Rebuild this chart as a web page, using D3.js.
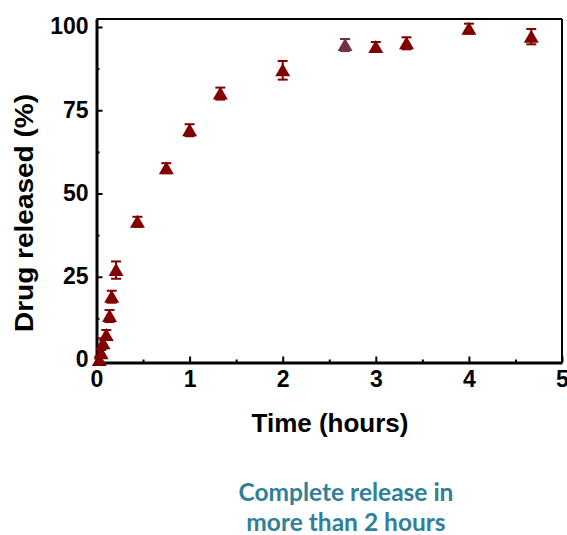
<!DOCTYPE html>
<html>
<head>
<meta charset="utf-8">
<title>Drug release</title>
<script src="https://d3js.org/d3.v7.min.js"></script>
<style>
  body { margin: 0; background: #fff; }
  svg { display: block; }
  .tick text { font-family: "Liberation Sans", Arial, sans-serif; font-weight: bold; font-size: 23px; fill: #000; }
  .lbl { font-family: "Liberation Sans", Arial, sans-serif; font-weight: bold; font-size: 26px; fill: #000; }
  .cap { font-family: Lato, "Open Sans", sans-serif; font-weight: bold; font-size: 24.5px; fill: #2f8099; }
</style>
</head>
<body>
<svg id="chart" width="567" height="535"></svg>
<script>
// time points (hours) and % released
var timeHours = [0.03, 0.05, 0.07, 0.105, 0.14, 0.163, 0.21, 0.44, 0.75, 1, 1.33, 2, 2.67, 3, 3.33, 4, 4.67];
var released  = [0, 2, 5, 7.5, 13.2, 19, 27, 41.5, 57.6, 69, 80, 87, 94.6, 94, 95.1, 99.5, 97.1];
var errBars   = [1, 1, 1.5, 1.5, 1.8, 1.8, 2.6, 1.5, 1.5, 1.8, 1.8, 2.8, 1.8, 1.5, 1.8, 1.5, 2.3];
var pointColor = ["#800000","#800000","#800000","#800000","#800000","#800000","#800000","#800000","#800000",
                  "#800000","#800000","#800000","#6b3344","#800000","#800000","#800000","#800000"];

var xTicks = [0, 1, 2, 3, 4, 5];
var xMinor = [0.5, 1.5, 2.5, 3.5, 4.5];
var yTicks = [0, 25, 50, 75, 100];
var yMinor = [12.5, 37.5, 62.5, 87.5];

var data = timeHours.map(function(t, i) {
  return { t: t, v: released[i], e: errBars[i], c: pointColor[i] };
});

var svg = d3.select("#chart");

var x = d3.scaleLinear([0, 5], [96.5, 562]);
var y = d3.scaleLinear([-0.75, 102.4], [362.5, 19]);

// frame: top and right
svg.append("line")
  .attr("x1", x(0)).attr("x2", x(5)).attr("y1", y(102.4)).attr("y2", y(102.4))
  .attr("stroke", "#000").attr("stroke-width", 2);
svg.append("line")
  .attr("x1", x(5)).attr("x2", x(5)).attr("y1", y(102.4)).attr("y2", y(-0.75))
  .attr("stroke", "#000").attr("stroke-width", 2);

// minor ticks
svg.append("g")
  .attr("transform", "translate(0," + y(-0.75) + ")")
  .call(d3.axisBottom(x).tickValues(xMinor).tickSize(-3).tickSizeOuter(0).tickFormat(""))
  .call(g => g.select(".domain").remove())
  .selectAll("line").attr("stroke-width", 2);
svg.append("g")
  .attr("transform", "translate(" + x(0) + ",0)")
  .call(d3.axisLeft(y).tickValues(yMinor).tickSize(-3).tickSizeOuter(0).tickFormat(""))
  .call(g => g.select(".domain").remove())
  .selectAll("line").attr("stroke-width", 2);

// major axes
var xAxis = svg.append("g")
  .attr("transform", "translate(0," + y(-0.75) + ")")
  .call(d3.axisBottom(x).tickValues(xTicks).tickSize(-6).tickSizeOuter(0).tickPadding(8).tickFormat(d3.format("d")));
xAxis.select(".domain").attr("stroke-width", 3);
xAxis.selectAll(".tick line").attr("stroke-width", 2);

var yAxis = svg.append("g")
  .attr("transform", "translate(" + x(0) + ",0)")
  .call(d3.axisLeft(y).tickValues(yTicks).tickSize(-6).tickSizeOuter(0).tickPadding(9).tickFormat(d3.format("d")));
yAxis.select(".domain").attr("stroke-width", 3);
yAxis.selectAll(".tick line").attr("stroke-width", 2);
yAxis.selectAll(".tick text").attr("dy", "0.3em").attr("x", -8);

// axis titles
svg.append("text").attr("class", "lbl")
  .attr("x", 330).attr("y", 432).attr("text-anchor", "middle")
  .text("Time (hours)");
svg.append("text").attr("class", "lbl")
  .attr("transform", "translate(33,213) rotate(-90)").attr("text-anchor", "middle")
  .attr("textLength", 238).attr("lengthAdjust", "spacingAndGlyphs")
  .text("Drug released (%)");

// error bars
var pts = svg.append("g").selectAll("g").data(data).join("g")
  .attr("transform", d => "translate(" + x(d.t) + "," + y(d.v) + ")");

pts.append("line")
  .attr("x1", 0).attr("x2", 0)
  .attr("y1", d => y(d.v + d.e) - y(d.v)).attr("y2", d => y(d.v - d.e) - y(d.v))
  .attr("stroke", d => d.c).attr("stroke-width", 2);
pts.append("line")
  .attr("x1", -5).attr("x2", 5)
  .attr("y1", d => y(d.v + d.e) - y(d.v)).attr("y2", d => y(d.v + d.e) - y(d.v))
  .attr("stroke", d => d.c).attr("stroke-width", 2);
pts.append("line")
  .attr("x1", -5).attr("x2", 5)
  .attr("y1", d => y(d.v - d.e) - y(d.v)).attr("y2", d => y(d.v - d.e) - y(d.v))
  .attr("stroke", d => d.c).attr("stroke-width", 2);

// triangle markers
pts.append("path")
  .attr("d", "M0,-7L7.5,6L-7.5,6Z")
  .attr("fill", d => d.c);

// caption
var caption = ["Complete release in", "more than 2 hours"];
svg.append("g").selectAll("text").data(caption).join("text")
  .attr("class", "cap")
  .attr("x", 346).attr("y", (d, i) => 501 + i * 30)
  .attr("text-anchor", "middle")
  .text(d => d);
</script>
</body>
</html>
